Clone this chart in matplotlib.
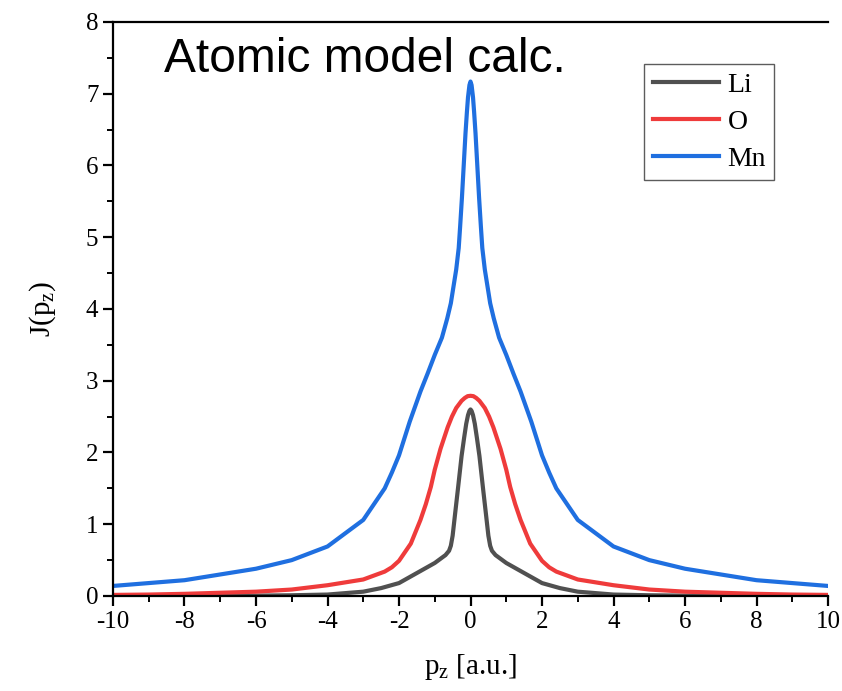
import numpy as np
import matplotlib
matplotlib.use("Agg")
import matplotlib.pyplot as plt
from matplotlib.ticker import MultipleLocator

plt.rcParams["font.family"] = "Liberation Serif"
plt.rcParams["mathtext.fontset"] = "custom"
plt.rcParams["mathtext.rm"] = "Liberation Serif"
plt.rcParams["mathtext.it"] = "Liberation Serif:italic"
plt.rcParams["axes.unicode_minus"] = False

# half-curves (p_z >= 0), mirrored to negative side
mn_x = [0, 0.03, 0.07, 0.1, 0.14, 0.19, 0.24, 0.29, 0.33, 0.4, 0.48, 0.55, 0.65, 0.8, 1.0, 1.2, 1.4, 1.7, 2.0, 2.2, 2.4, 3, 4, 5, 6, 7, 8, 9, 10]
mn_y = [7.17, 7.12, 6.95, 6.75, 6.45, 6.0, 5.55, 5.15, 4.85, 4.55, 4.3, 4.08, 3.87, 3.6, 3.36, 3.1, 2.85, 2.43, 1.96, 1.72, 1.5, 1.06, 0.69, 0.5, 0.38, 0.3, 0.22, 0.18, 0.14]

o_x = [0, 0.08, 0.16, 0.25, 0.4, 0.52, 0.64, 0.84, 1.0, 1.11, 1.25, 1.4, 1.67, 2.0, 2.2, 2.4, 3, 4, 5, 6, 7, 8, 9, 10]
o_y = [2.79, 2.785, 2.76, 2.72, 2.62, 2.5, 2.35, 2.05, 1.76, 1.52, 1.28, 1.06, 0.73, 0.49, 0.4, 0.34, 0.23, 0.15, 0.09, 0.06, 0.045, 0.03, 0.02, 0.015]

li_x = [0, 0.03, 0.07, 0.12, 0.18, 0.25, 0.35, 0.43, 0.5, 0.55, 0.6, 0.7, 1.0, 1.5, 2.0, 2.5, 3, 4, 5, 6, 7, 8, 9, 10]
li_y = [2.6, 2.58, 2.52, 2.4, 2.2, 1.95, 1.5, 1.15, 0.84, 0.7, 0.63, 0.57, 0.46, 0.32, 0.18, 0.11, 0.06, 0.02, 0.01, 0.005, 0.004, 0.003, 0.002, 0.002]

labels = ["Li", "O", "Mn"]
colors = ["#505050", "#ef3b3b", "#1f6fe0"]


def mirror(x, y):
    x = np.asarray(x, dtype=float)
    y = np.asarray(y, dtype=float)
    return np.concatenate([-x[:0:-1], x]), np.concatenate([y[:0:-1], y])


fig = plt.figure(figsize=(8.42, 6.91), dpi=100)
ax = fig.add_axes([0.1342, 0.1375, 0.8492, 0.8307])

for (hx, hy), lab, c in zip([(li_x, li_y), (o_x, o_y), (mn_x, mn_y)], labels, colors):
    xx, yy = mirror(hx, hy)
    ax.plot(xx, yy, color=c, lw=3.0, label=lab, solid_joinstyle="round")

ax.set_xlim(-10, 10)
ax.set_ylim(0, 8)
ax.xaxis.set_major_locator(MultipleLocator(2))
ax.xaxis.set_minor_locator(MultipleLocator(1))
ax.yaxis.set_major_locator(MultipleLocator(1))
ax.yaxis.set_minor_locator(MultipleLocator(0.5))
ax.tick_params(which="major", direction="out", length=7, width=1.6, labelsize=18)
ax.tick_params(which="minor", direction="out", length=4, width=1.4)
ax.spines["right"].set_visible(False)
for s in ["left", "bottom", "top"]:
    ax.spines[s].set_linewidth(1.6)

ax.set_xlabel("p$_\\mathrm{z}$ [a.u.]", fontsize=21, labelpad=14)
ax.set_ylabel("J(p$_\\mathrm{z}$)", fontsize=21, labelpad=20)

ax.text(0.072, 0.935, "Atomic model calc.", transform=ax.transAxes,
        fontsize=34.5, family="Liberation Sans", va="center", ha="left")

leg = ax.legend(loc="upper right", bbox_to_anchor=(0.925, 0.927), fontsize=20,
                frameon=True, fancybox=False, handlelength=2.4,
                borderpad=0.3, labelspacing=0.42, handletextpad=0.3,
                borderaxespad=0)
leg.get_frame().set_edgecolor("#333333")
leg.get_frame().set_linewidth(1.0)

fig.savefig("out.png", dpi=100)
